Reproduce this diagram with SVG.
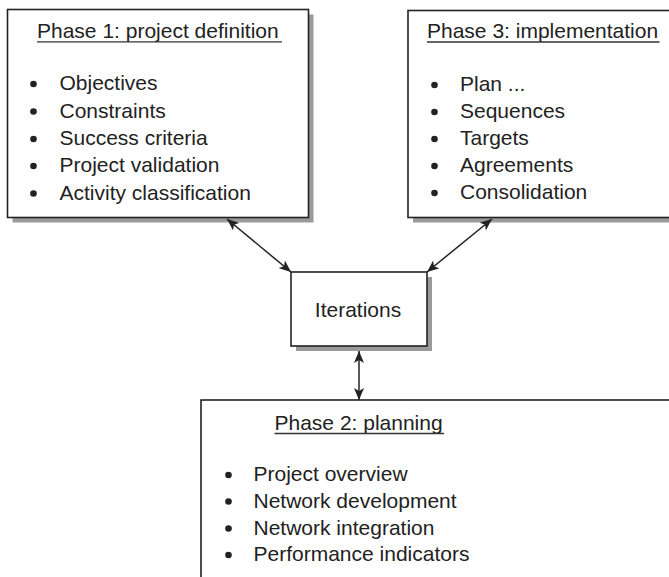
<svg xmlns="http://www.w3.org/2000/svg" width="669" height="577" viewBox="0 0 669 577">
  <style>
    .shadow { fill: #9a9a9a; }
    .box { fill: #ffffff; stroke: #222222; stroke-width: 1.6; }
    .title, .item, .label { font-family: "Liberation Sans", Arial, sans-serif; font-size: 21px; fill: #222222; }
    .rule { stroke: #333333; stroke-width: 1.3; }
    .dot { fill: #222222; }
    .conn { stroke: #222222; stroke-width: 1.5; fill: none; marker-start: url(#head); marker-end: url(#head); }
  </style>
  <defs>
    <marker id="head" viewBox="0 0 12 10" refX="12" refY="5" markerWidth="12" markerHeight="10" markerUnits="userSpaceOnUse" orient="auto-start-reverse">
      <path d="M0,0 L12,5 L0,10 L3,5 z" fill="#222222"/>
    </marker>
  </defs>

  <rect width="669" height="577" fill="#ffffff"/>

  <!-- Phase 1 -->
  <g id="phase1">
    <rect class="shadow" x="12.5" y="14.5" width="301" height="208"/>
    <rect class="box" x="7.5" y="9.5" width="301" height="208"/>
    <text class="title" x="37" y="37.5">Phase 1: project definition</text>
    <line class="rule" x1="37" y1="41.8" x2="282" y2="41.8"/>
    <circle class="dot" cx="33.5" cy="84" r="3.3"/>
    <circle class="dot" cx="33.5" cy="111.5" r="3.3"/>
    <circle class="dot" cx="33.5" cy="139" r="3.3"/>
    <circle class="dot" cx="33.5" cy="166" r="3.3"/>
    <circle class="dot" cx="33.5" cy="193.5" r="3.3"/>
    <text class="item" x="59.5" y="90">Objectives</text>
    <text class="item" x="59.5" y="117.5">Constraints</text>
    <text class="item" x="59.5" y="145">Success criteria</text>
    <text class="item" x="59.5" y="172">Project validation</text>
    <text class="item" x="59.5" y="199.5">Activity classification</text>
  </g>

  <!-- Phase 3 -->
  <g id="phase3">
    <rect class="shadow" x="413" y="15.5" width="300" height="207"/>
    <rect class="box" x="408" y="10.5" width="300" height="207"/>
    <text class="title" x="427" y="37.5">Phase 3: implementation</text>
    <line class="rule" x1="427" y1="42" x2="659.5" y2="42"/>
    <circle class="dot" cx="434.5" cy="85" r="3.3"/>
    <circle class="dot" cx="434.5" cy="112" r="3.3"/>
    <circle class="dot" cx="434.5" cy="139" r="3.3"/>
    <circle class="dot" cx="434.5" cy="166" r="3.3"/>
    <circle class="dot" cx="434.5" cy="193" r="3.3"/>
    <text class="item" x="460" y="91">Plan ...</text>
    <text class="item" x="460" y="118">Sequences</text>
    <text class="item" x="460" y="145">Targets</text>
    <text class="item" x="460" y="172">Agreements</text>
    <text class="item" x="460" y="199">Consolidation</text>
  </g>

  <!-- Iterations -->
  <g id="iterations">
    <rect class="shadow" x="296" y="277" width="136" height="74"/>
    <rect class="box" x="291" y="272" width="136" height="74"/>
    <text class="label" x="358" y="316.5" text-anchor="middle">Iterations</text>
  </g>

  <!-- Phase 2 -->
  <g id="phase2">
    <rect class="box" x="201" y="400" width="520" height="220"/>
    <text class="title" x="274.5" y="429.5">Phase 2: planning</text>
    <line class="rule" x1="274.5" y1="433.5" x2="444" y2="433.5"/>
    <circle class="dot" cx="228.5" cy="475" r="3.3"/>
    <circle class="dot" cx="228.5" cy="501.5" r="3.3"/>
    <circle class="dot" cx="228.5" cy="528.5" r="3.3"/>
    <circle class="dot" cx="228.5" cy="555" r="3.3"/>
    <text class="item" x="253.5" y="481">Project overview</text>
    <text class="item" x="253.5" y="507.5">Network development</text>
    <text class="item" x="253.5" y="534.5">Network integration</text>
    <text class="item" x="253.5" y="561">Performance indicators</text>
  </g>

  <!-- Connectors -->
  <g id="connectors">
    <line class="conn" x1="227" y1="219" x2="291" y2="272"/>
    <line class="conn" x1="492" y1="219" x2="427" y2="272"/>
    <line class="conn" x1="359" y1="351" x2="359" y2="400"/>
  </g>
</svg>
